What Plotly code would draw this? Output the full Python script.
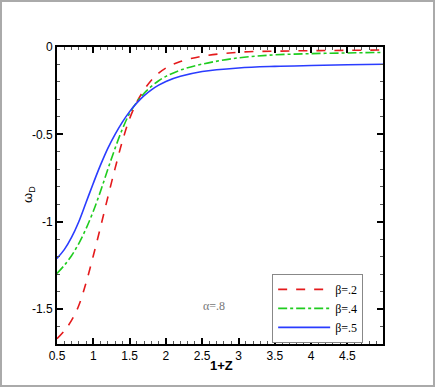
import plotly.graph_objects as go

# values
z = [0.5, 0.6, 0.7, 0.8, 0.9, 1.0, 1.1, 1.2, 1.3, 1.4, 1.5, 1.6, 1.7, 1.8, 1.9,
     2.0, 2.2, 2.5, 3.0, 3.5, 4.0, 4.5, 5.0]
w_b2 = [-1.67, -1.625, -1.565, -1.48, -1.35, -1.195, -1.03, -0.86, -0.695, -0.54, -0.41,
        -0.315, -0.245, -0.19, -0.15, -0.12, -0.083, -0.053, -0.03, -0.024, -0.021,
        -0.019, -0.017]
w_b4 = [-1.296, -1.25, -1.195, -1.125, -1.04, -0.94, -0.825, -0.70, -0.58, -0.47, -0.38,
        -0.315, -0.265, -0.225, -0.193, -0.168, -0.132, -0.098, -0.062, -0.045, -0.038,
        -0.034, -0.031]
w_b5 = [-1.21, -1.16, -1.09, -1.00, -0.89, -0.78, -0.675, -0.58, -0.50, -0.43, -0.37,
        -0.32, -0.278, -0.245, -0.218, -0.197, -0.168, -0.14, -0.12, -0.111, -0.106,
        -0.102, -0.099]

xticks = [0.5, 1, 1.5, 2, 2.5, 3, 3.5, 4, 4.5]
xlabels = ["0.5", "1", "1.5", "2", "2.5", "3", "3.5", "4", "4.5"]
yticks = [0, -0.5, -1, -1.5]
ylabels = ["0", "-0.5", "-1", "-1.5"]

W, H = 436, 388
L, R, T, B = 57, 53, 47, 44
pw, ph = W - L - R, H - T - B

fig = go.Figure()
fig.add_trace(go.Scatter(x=z, y=w_b2, mode="lines", name="β=.2",
                         line=dict(color="#e41a1c", dash="dash", width=1.6, shape="spline")))
fig.add_trace(go.Scatter(x=z, y=w_b4, mode="lines", name="β=.4",
                         line=dict(color="#1fcc1f", dash="dashdot", width=1.6, shape="spline")))
fig.add_trace(go.Scatter(x=z, y=w_b5, mode="lines", name="β=.5",
                         line=dict(color="#2a3cff", width=1.6, shape="spline")))

axis_common = dict(showline=True, linecolor="black", linewidth=2, mirror="ticks",
                   ticks="inside", ticklen=6, tickwidth=2, tickcolor="black",
                   showgrid=False, zeroline=False,
                   tickfont=dict(family="Liberation Sans", size=12, color="black"))

fig.update_xaxes(range=[0.5, 4.99], tickvals=xticks, ticktext=xlabels,
                 minor=dict(dtick=0.1, ticks="inside", ticklen=3, tickwidth=1, tickcolor="#555"),
                 **axis_common)
fig.update_yaxes(range=[-1.7, 0], tickvals=yticks, ticktext=ylabels,
                 minor=dict(dtick=0.1, tick0=0, ticks="inside", ticklen=3, tickwidth=1, tickcolor="#555"),
                 **axis_common)

# axis titles placed like in the reference
fig.add_annotation(xref="paper", yref="paper", x=(221 - L) / pw, y=(H - B - 365) / ph,
                   xanchor="center", yanchor="middle",
                   text="<b>1+Z</b>", showarrow=False,
                   font=dict(family="Liberation Sans", size=13, color="black"))
fig.add_annotation(xref="paper", yref="paper", x=(28 - L) / pw, y=(H - B - 195) / ph,
                   xanchor="center", yanchor="middle",
                   text="ω<sub>D</sub>", textangle=-90, showarrow=False,
                   font=dict(family="Liberation Sans", size=13, color="black"))

fig.add_annotation(x=2.66, y=-1.48, text="α=.8", showarrow=False,
                   font=dict(family="Liberation Serif", size=12, color="#777"))

fig.add_shape(type="rect", xref="paper", yref="paper",
              x0=(1 - L) / pw, x1=(434 - L) / pw,
              y0=(H - B - 386) / ph, y1=(H - B - 1) / ph,
              line=dict(color="#aaa", width=2), layer="below")

fig.update_layout(
    width=W, height=H,
    margin=dict(l=L, r=R, t=T, b=B),
    paper_bgcolor="white", plot_bgcolor="white",
    legend=dict(x=0.66, y=0.236, xanchor="left", yanchor="top",
                bordercolor="#888", borderwidth=1, bgcolor="white",
                font=dict(family="Liberation Serif", size=12, color="black"),
                itemwidth=52, tracegroupgap=0),
)

fig.write_html("out.html", config={"displayModeBar": False},
               post_script="document.body.style.margin='0';")
